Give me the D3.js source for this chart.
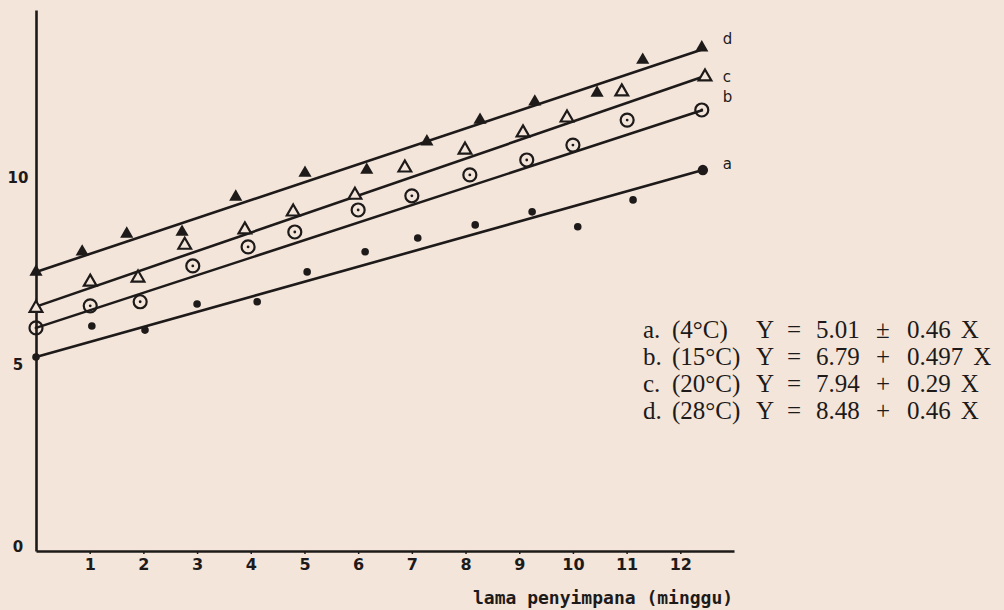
<!DOCTYPE html>
<html>
<head>
<meta charset="utf-8">
<script src="https://cdn.jsdelivr.net/npm/d3@7"></script>
<style>
  body { margin: 0; background: #f3e5da; }
  svg { display: block; }
</style>
</head>
<body>
<div id="chart"></div>
<script>
// values (x = weeks of storage)
var weekTicks = [1, 2, 3, 4, 5, 6, 7, 8, 9, 10, 11, 12];
var yTicks = [0, 5, 10];

var xA = [0, 1.04, 2.03, 3.0, 4.12, 5.05, 6.13, 7.11, 8.18, 9.24, 10.09, 11.12, 12.42];
var yA = [5.2, 6.03, 5.92, 6.62, 6.68, 7.48, 8.02, 8.39, 8.74, 9.09, 8.69, 9.41, 10.21];
var xB = [0, 1.01, 1.94, 2.92, 3.95, 4.82, 6.0, 7.0, 8.08, 9.14, 10.0, 11.01, 12.4];
var yB = [5.98, 6.57, 6.68, 7.64, 8.15, 8.55, 9.14, 9.52, 10.08, 10.48, 10.88, 11.55, 11.82];
var xC = [0, 1.01, 1.9, 2.77, 3.89, 4.79, 5.94, 6.87, 7.99, 9.07, 9.89, 10.91, 12.46];
var yC = [6.51, 7.21, 7.32, 8.2, 8.61, 9.09, 9.54, 10.27, 10.75, 11.21, 11.61, 12.31, 12.71];
var xD = [0, 0.86, 1.69, 2.72, 3.72, 5.01, 6.16, 7.28, 8.27, 9.29, 10.45, 11.3, 12.4];
var yD = [7.48, 8.02, 8.5, 8.55, 9.49, 10.13, 10.21, 10.97, 11.55, 12.04, 12.28, 13.16, 13.49];

// drawn regression lines: value at start and end
var fitX = [0, 12.42];
var fitA = [5.2, 10.21];
var fitB = [5.98, 11.82];
var fitC = [6.55, 12.71];
var fitD = [7.48, 13.45];

var seriesNames = ["a", "b", "c", "d"];
var temps = ["4°C", "15°C", "20°C", "28°C"];
var intercepts = ["5.01", "6.79", "7.94", "8.48"];
var signs = ["±", "+", "+", "+"];
var slopes = ["0.46", "0.497", "0.29", "0.46"];
var xTitle = "lama penyimpana (minggu)";

var width = 1004, height = 610;
var ink = "#1d1a19";

var svg = d3.select("#chart").append("svg")
    .attr("width", width)
    .attr("height", height);

var x = d3.scaleLinear().domain([0, 13]).range([36, 734]);
var y = d3.scaleLinear().domain([0, 14.5]).range([551, 10]);

var series = [
  { name: "a", xs: xA, ys: yA, fit: fitA, mark: "dot" },
  { name: "b", xs: xB, ys: yB, fit: fitB, mark: "circle" },
  { name: "c", xs: xC, ys: yC, fit: fitC, mark: "open" },
  { name: "d", xs: xD, ys: yD, fit: fitD, mark: "filled" }
];

// axes
var xAxis = svg.append("g")
    .attr("transform", "translate(0," + y(0) + ")")
    .call(d3.axisBottom(x).tickValues(weekTicks).tickSize(3).tickPadding(5).tickSizeOuter(0));
xAxis.select(".domain").attr("stroke", ink).attr("stroke-width", 2.6);
xAxis.selectAll(".tick line").attr("stroke", ink).attr("stroke-width", 1.5);
xAxis.selectAll(".tick text")
    .attr("fill", ink)
    .style("font-family", "DejaVu Sans")
    .style("font-weight", "bold")
    .style("font-size", "16px");

var yAxis = svg.append("g")
    .attr("transform", "translate(" + x(0) + ",0)")
    .call(d3.axisLeft(y).tickValues(yTicks).tickSize(0).tickPadding(18).tickSizeOuter(0));
yAxis.select(".domain").attr("stroke", ink).attr("stroke-width", 2.6);
yAxis.selectAll(".tick text")
    .attr("fill", ink)
    .attr("text-anchor", "middle")
    .attr("dy", function(d) { return d === 0 ? "0.05em" : "0.32em"; })
    .style("font-family", "DejaVu Sans")
    .style("font-weight", "bold")
    .style("font-size", "15px");

// regression lines
var line = d3.line().x(function(d) { return x(d[0]); }).y(function(d) { return y(d[1]); });
svg.append("g").selectAll("path")
    .data(series)
    .join("path")
    .attr("d", function(s) { return line(fitX.map(function(v, i) { return [v, s.fit[i]]; })); })
    .attr("fill", "none")
    .attr("stroke", ink)
    .attr("stroke-width", 2.6);

// markers
var tri = d3.symbol().type(d3.symbolTriangle);
series.forEach(function(s) {
  var pts = s.xs.map(function(v, i) { return { x: v, y: s.ys[i], last: i === s.xs.length - 1 }; });
  var g = svg.append("g").attr("class", "pts-" + s.name);
  var sel = g.selectAll("g").data(pts).join("g")
      .attr("transform", function(d) { return "translate(" + x(d.x) + "," + y(d.y) + ")"; });
  if (s.mark === "dot") {
    sel.append("circle").attr("r", function(d) { return d.last ? 5.2 : 3.8; }).attr("fill", ink);
  } else if (s.mark === "circle") {
    sel.append("circle").attr("r", 6.5).attr("fill", "none").attr("stroke", ink).attr("stroke-width", 2.2);
    sel.append("circle").attr("r", 1.4).attr("fill", ink);
  } else if (s.mark === "open") {
    sel.append("path").attr("d", tri.size(70)).attr("fill", "#f3e5da").attr("stroke", ink).attr("stroke-width", 2.2);
  } else {
    sel.append("path").attr("d", tri.size(75)).attr("fill", ink);
  }
});

// curve letters at the line ends
var labelShift = [-6, -13, 0, -10];
svg.append("g").selectAll("text")
    .data(series)
    .join("text")
    .attr("x", x(fitX[1]) + 20)
    .attr("y", function(s, i) { return y(s.fit[1]) + labelShift[i]; })
    .attr("dy", "0.35em")
    .attr("fill", ink)
    .style("font-family", "DejaVu Sans")
    .style("font-size", "15px")
    .text(function(s) { return s.name; });

// regression equations
var eq = svg.append("g")
    .style("font-family", "Liberation Serif")
    .style("font-size", "25px")
    .attr("fill", ink);
var rowY = [338, 365, 392, 419];
seriesNames.forEach(function(n, i) {
  var r = eq.append("g").attr("transform", "translate(0," + rowY[i] + ")");
  r.append("text").attr("x", 643).text(n + ".");
  r.append("text").attr("x", 672).text("(" + temps[i] + ")");
  r.append("text").attr("x", 756).text("Y");
  r.append("text").attr("x", 787).text("=");
  r.append("text").attr("x", 816).text(intercepts[i]);
  r.append("text").attr("x", 876).text(signs[i]);
  var sl = r.append("text").attr("x", 907).text(slopes[i]);
  var w = sl.node().getComputedTextLength();
  r.append("text").attr("x", 907 + w + 10).text("X");
});

// x axis title
svg.append("text")
    .attr("x", 473)
    .attr("y", 604)
    .attr("fill", ink)
    .style("font-family", "DejaVu Sans Mono")
    .style("font-weight", "bold")
    .style("font-size", "18px")
    .text(xTitle);
</script>
</body>
</html>
